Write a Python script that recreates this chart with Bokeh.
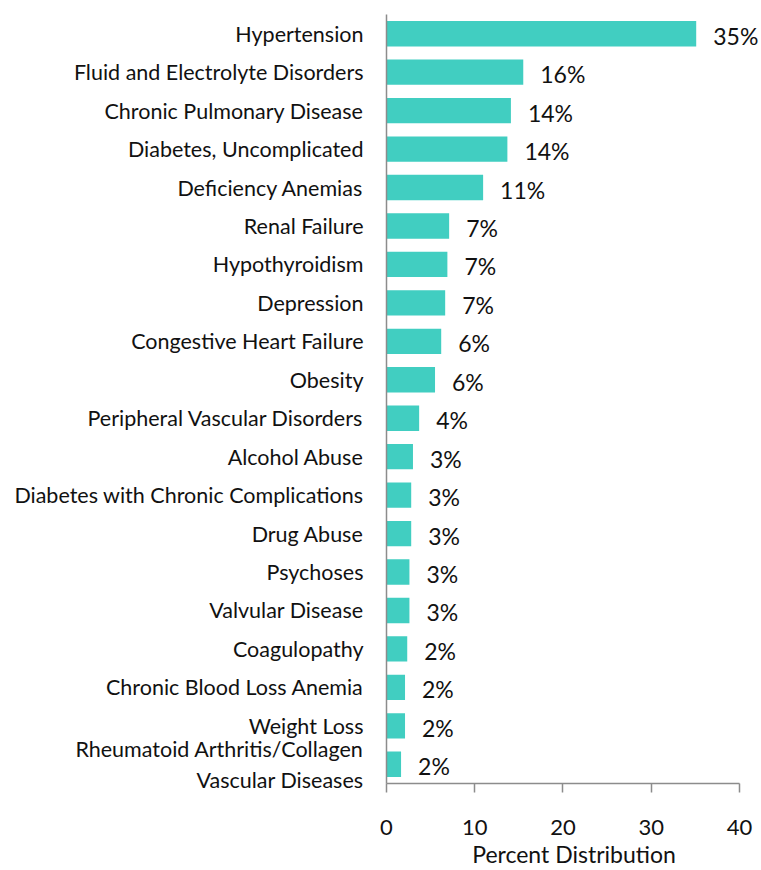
from bokeh.plotting import figure
from bokeh.models import FactorRange, Range1d, FixedTicker, ColumnDataSource, LabelSet
from bokeh.core.properties import value
from bokeh.embed import file_html
from bokeh.resources import INLINE

categories = [
    "Hypertension",
    "Fluid and Electrolyte Disorders",
    "Chronic Pulmonary Disease",
    "Diabetes, Uncomplicated",
    "Deficiency Anemias",
    "Renal Failure",
    "Hypothyroidism",
    "Depression",
    "Congestive Heart Failure",
    "Obesity",
    "Peripheral Vascular Disorders",
    "Alcohol Abuse",
    "Diabetes with Chronic Complications",
    "Drug Abuse",
    "Psychoses",
    "Valvular Disease",
    "Coagulopathy",
    "Chronic Blood Loss Anemia",
    "Weight Loss",
    "Rheumatoid Arthritis/Collagen\nVascular Diseases",
]
values = [35.1, 15.5, 14.1, 13.7, 10.95, 7.1, 6.9, 6.65, 6.2, 5.5,
          3.7, 3.0, 2.8, 2.8, 2.6, 2.6, 2.35, 2.1, 2.1, 1.65]
value_labels = ["35%", "16%", "14%", "14%", "11%", "7%", "7%", "7%", "6%", "6%",
                "4%", "3%", "3%", "3%", "3%", "3%", "2%", "2%", "2%", "2%"]
x_ticks = [0, 10, 20, 30, 40]
x_title = "Percent Distribution"

FONT = "Lato"
BAR = "#41CEC1"
AXIS = "#8C8C8C"
TXT = "#111111"

source = ColumnDataSource(dict(cat=categories, val=values, lab=value_labels))

p = figure(
    width=761, height=870,
    y_range=FactorRange(factors=list(reversed(categories)), range_padding=0),
    x_range=Range1d(0, 42.5),
    output_backend="svg", toolbar_location=None,
    min_border_left=386, min_border_right=0, min_border_top=14, min_border_bottom=87,
)
p.outline_line_color = None
p.xgrid.grid_line_color = None
p.ygrid.grid_line_color = None
p.background_fill_color = "white"
p.border_fill_color = "white"

p.hbar(y="cat", right="val", left=0, height=0.66, source=source,
       fill_color=BAR, line_color=None)

labels = LabelSet(x="val", y="cat", text="lab", source=source,
                  x_offset=17, y_offset=-2, text_align="left", text_baseline="middle",
                  text_font=value(FONT), text_font_size=value("23px"), text_color=TXT)
p.add_layout(labels)

xa = p.xaxis[0]
xa.ticker = FixedTicker(ticks=x_ticks)
xa.bounds = (0, 40)
xa.axis_line_color = AXIS
xa.axis_line_width = 1.5
xa.major_tick_line_color = AXIS
xa.major_tick_line_width = 1.5
xa.major_tick_out = 9
xa.major_tick_in = 0
xa.minor_tick_line_color = None
xa.major_label_text_font = FONT
xa.major_label_text_font_size = "22px"
xa.major_label_text_color = TXT
xa.major_label_standoff = 27
xa.axis_label = x_title
xa.axis_label_text_font = FONT
xa.axis_label_text_font_size = "23px"
xa.axis_label_text_font_style = "normal"
xa.axis_label_text_color = TXT
xa.axis_label_standoff = 2

ya = p.yaxis[0]
ya.axis_line_color = AXIS
ya.axis_line_width = 1.5
ya.major_tick_line_color = None
ya.minor_tick_line_color = None
ya.major_label_text_font = FONT
ya.major_label_text_font_size = "21.5px"
ya.major_label_text_color = TXT
ya.major_label_standoff = 17

open("out.html", "w").write(file_html(p, INLINE))
